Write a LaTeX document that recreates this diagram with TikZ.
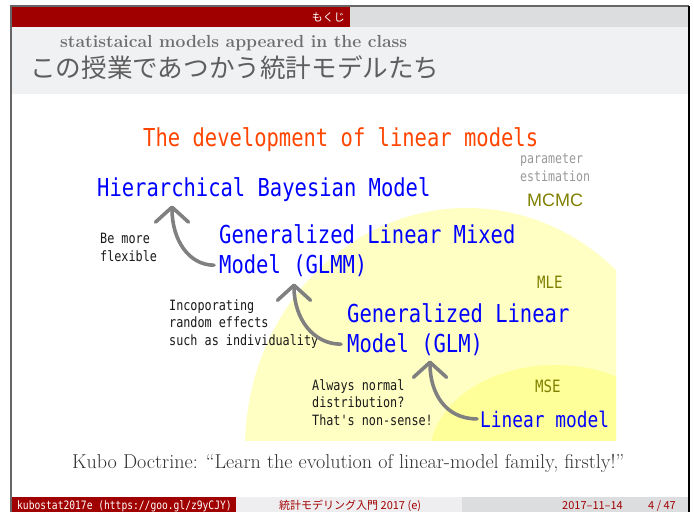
\documentclass[tikz,border=0pt]{standalone}
\usepackage{fontspec}
\usetikzlibrary{positioning,arrows.meta,calc}
\newfontfamily\lmono[FakeStretch=0.83]{DejaVu Sans Mono}
\newfontfamily\jpfont{Noto Sans CJK JP}
\newfontfamily\hsans{Liberation Sans}
\definecolor{barred}{HTML}{A00000}
\definecolor{bargray}{HTML}{DCDDDF}
\definecolor{footgray}{HTML}{EEEEF0}
\definecolor{headgray}{HTML}{F0F1F3}
\definecolor{titlegray}{HTML}{5E5E5E}
\definecolor{modelblue}{HTML}{0000FF}
\definecolor{headred}{HTML}{FF4500}
\definecolor{estolive}{HTML}{808000}
\definecolor{notegray}{HTML}{999999}
\definecolor{arrowgray}{HTML}{808080}
\definecolor{mleyellow}{HTML}{FFFFC4}
\definecolor{mseyellow}{HTML}{FFFF99}
\tikzset{
  model/.style={anchor=base west, inner sep=0pt, text=modelblue, font=\lmono\fontsize{24.7}{30}\selectfont},
  note/.style={anchor=base west, inner sep=0pt, align=left, text=black!90, font=\lmono\fontsize{14.2}{17.5}\selectfont},
  estim/.style={anchor=base west, inner sep=0pt, text=estolive, font=\lmono\fontsize{17}{20}\selectfont},
  growarrow/.style={draw=arrowgray, line width=3.6pt, line cap=round, line join=round, -{Straight Barb[round,length=15pt,width=33pt]}},
  foot/.style={anchor=base west, inner sep=0pt, font=\jpfont\fontsize{11}{13}\selectfont},
}
\begin{document}
\begin{tikzpicture}[x=1pt,y=-1pt]
\useasboundingbox (0,0) rectangle (694,512);
\fill[white] (0,0) rectangle (694,512);
% header bars
\fill[barred] (12,7) rectangle (350,27);
\fill[bargray] (350,7) rectangle (689,27);
\fill[headgray] (12,27) rectangle (689,94);
\node[anchor=base east, inner sep=0pt, text=white, font=\jpfont\fontsize{11}{13}\selectfont] (toc) at (345,21) {もくじ};
\node[anchor=base west, inner sep=0pt, text=titlegray!90, font=\bfseries\fontsize{17.5}{20}\selectfont] (subtitle) at (60,47) {statistaical models appeared in the class};
\node[anchor=base west, inner sep=0pt, text=titlegray, font=\jpfont\fontsize{25.6}{30}\selectfont] (title) at (30,77) {この授業であつかう統計モデルたち};
% footer
\fill[barred] (12,497) rectangle (236,512);
\fill[footgray] (236,497) rectangle (462,512);
\fill[bargray] (462,497) rectangle (689,512);
\node[foot, text=white, font=\lmono\fontsize{11.6}{13}\selectfont] (url) at (17,509) {kubostat2017e (https://goo.gl/z9yCJY)};
\node[foot, text=barred] (book) at (279,509) {統計モデリング入門 2017 (e)};
\node[foot, text=barred] (date) at (562,509) {2017–11–14};
\node[foot, text=barred] (page) at (648,509) {4 / 47};
% frame
\draw[black!60, line width=1.5pt] (11,512) -- (11,6) -- (689,6);
\draw[black, line width=2pt] (689,6) -- (689,512);
% estimation regions
\begin{scope}
\clip (0,0) rectangle (616,440);
\fill[mleyellow] (467,448) ellipse [x radius=222, y radius=240];
\fill[mseyellow] (555,455) ellipse [x radius=125, y radius=90];
\end{scope}
\node[model, text=headred] (devtitle) at (143,146) {The development of linear models};
\node[anchor=base west, inner sep=0pt, align=left, text=notegray, font=\lmono\fontsize{14}{18}\selectfont] (paramnote) at (520,181) {parameter\\estimation};
\node[anchor=base west, inner sep=0pt, text=estolive, font=\hsans\fontsize{18}{20}\selectfont] (mcmc) at (527,206) {MCMC};
\node[estim] (mle) at (537,288) {MLE};
\node[estim] (mse) at (535,392) {MSE};
% models
\node[model] (hbm) at (97,196) {Hierarchical Bayesian Model};
\node[model] (glmmA) at (219,243) {Generalized Linear Mixed};
\node[model] (glmm) at (219,273) {Model (GLMM)};
\node[model] (glmA) at (347,322) {Generalized Linear};
\node[model] (glm) at (347,352) {Model (GLM)};
\node[model, font=\lmono\fontsize{21.5}{26}\selectfont] (lm) at (480,427) {Linear model};
% notes (base = last line)
\node[note] (flexnote) at (100,261) {Be more\\flexible};
\node[note] (ranote) at (169,345) {Incoporating\\random effects\\such as individuality};
\node[note] (normnote) at (312,425) {Always normal\\distribution?\\That's non-sense!};
% arrows
\draw[growarrow] ([xshift=-5pt]glmm.west) .. controls +(-25,0) and +(0,35) .. ($(hbm.south west)+(75,4)$);
\draw[growarrow] ([xshift=-6pt]glm.west) .. controls +(-28,0) and +(0,35) .. ($(glmm.south west)+(75,7)$);
\draw[growarrow] ([xshift=-3pt]lm.west) .. controls +(-32,0) and +(0,32) .. ($(glm.south west)+(83,5)$);
\node[anchor=base west, inner sep=0pt, text=black!80, font=\fontsize{20.1}{24}\selectfont] (doctrine) at (72,468) {Kubo Doctrine: “Learn the evolution of linear-model family, firstly!”};
\end{tikzpicture}
\end{document}
